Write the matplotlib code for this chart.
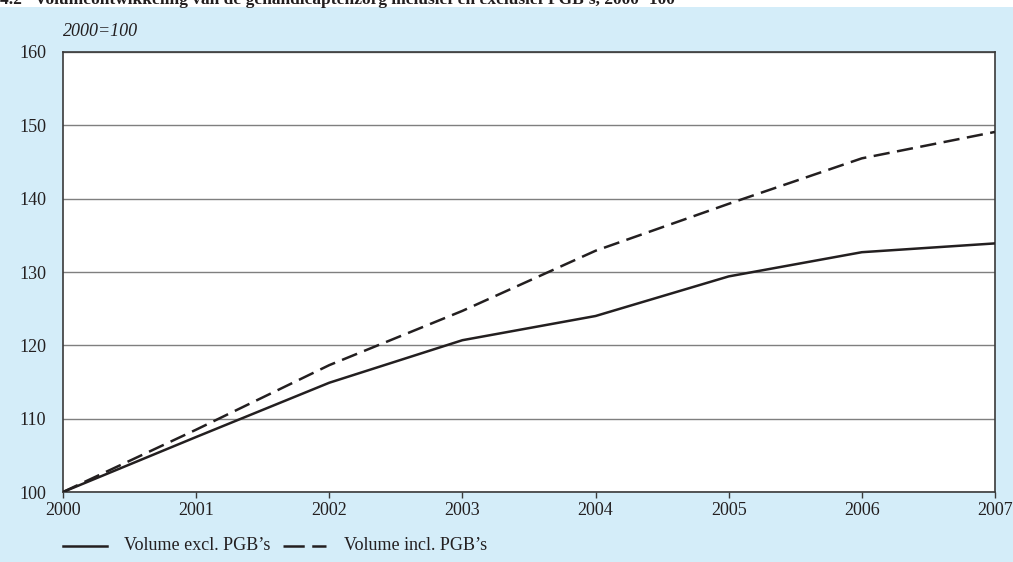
import matplotlib
matplotlib.use("Agg")
import matplotlib.pyplot as plt

# data (index, 2000=100)
years = [2000, 2001, 2002, 2003, 2004, 2005, 2006, 2007]
excl_pgb = [100, 107.5, 114.9, 120.7, 124.0, 129.4, 132.7, 133.9]
incl_pgb = [100, 108.5, 117.3, 124.7, 132.9, 139.3, 145.5, 149.1]

title = "4.2   Volumeontwikkeling van de gehandicaptenzorg inclusief en exclusief PGB\u2019s, 2000=100"
unit = "2000=100"
labels = ["Volume excl. PGB\u2019s", "Volume incl. PGB\u2019s"]

bg = "#d4edf9"
ink = "#231f20"
fs = 13
plt.rcParams['font.family'] = ['Liberation Serif', 'DejaVu Serif']

fig = plt.figure(figsize=(10.13, 5.62), dpi=100)
fig.patch.set_facecolor("white")
# blue panel below the white strip holding the (cut off) title
panel = plt.Rectangle((0, 0), 1, (562 - 7) / 562, transform=fig.transFigure,
                      facecolor=bg, edgecolor="none", zorder=-5)
fig.add_artist(panel)
fig.text(0.0, (562 - 4) / 562, title, fontsize=12.5, fontweight="bold", color=ink,
         va="baseline", ha="left")

ax = fig.add_axes([63 / 1013, (562 - 492) / 562, (995 - 63) / 1013, (492 - 52) / 562])
ax.set_facecolor("white")

ax.plot(years, excl_pgb, color=ink, lw=1.8, solid_joinstyle="miter", zorder=3)
ax.plot(years, incl_pgb, color=ink, lw=1.8, linestyle=(0, (6.5, 3)), zorder=3)

ax.set_xlim(2000, 2007)
ax.set_ylim(100, 160)
ax.set_xticks(years)
ax.set_yticks(range(100, 161, 10))
ax.grid(axis="y", color="#7f7f7f", lw=1.0)
ax.set_axisbelow(True)
for s in ax.spines.values():
    s.set_color("#3a3a3a")
    s.set_linewidth(1.2)
ax.tick_params(axis="y", length=0, pad=12, labelsize=fs, colors=ink)
ax.tick_params(axis="x", length=4, width=1, color="#3a3a3a", pad=3, labelsize=fs,
               labelcolor=ink)

fig.text(63 / 1013, (562 - 31) / 562, unit, fontsize=fs, style="italic", color=ink,
         va="center", ha="left")

# legend drawn by hand below the plot
ly = (562 - 546) / 562
fig.add_artist(plt.Line2D([63 / 1013, 107 / 1013], [ly, ly], color=ink, lw=1.8,
                          transform=fig.transFigure))
fig.text(124 / 1013, ly, labels[0], fontsize=fs, color=ink, va="center")
fig.add_artist(plt.Line2D([283 / 1013, 326 / 1013], [ly, ly], color=ink, lw=1.8,
                          linestyle=(0, (8.5, 3)), transform=fig.transFigure))
fig.text(344 / 1013, ly, labels[1], fontsize=fs, color=ink, va="center")

fig.savefig("out.png", dpi=100, facecolor=fig.get_facecolor())
